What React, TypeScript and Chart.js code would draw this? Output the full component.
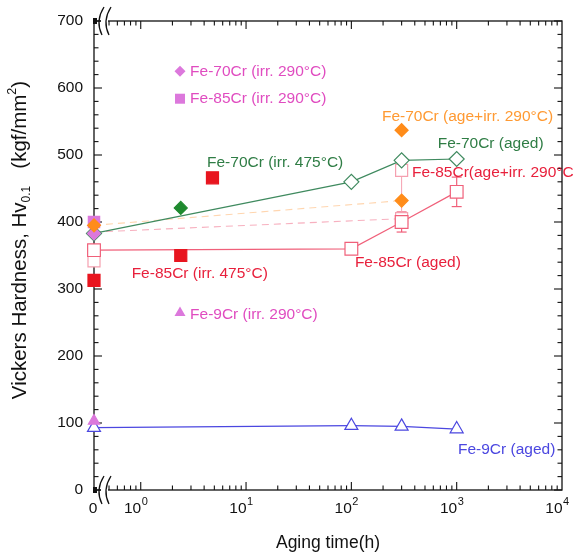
import React, { useEffect, useRef } from "react";
import { Chart, registerables } from "chart.js";

Chart.register(...registerables);

const FONT = "'Liberation Sans', Arial, sans-serif";

// x axis: logarithmic aging time (h); 0 h is shown at the left edge
const X_ZERO = 0.36;
const X_MAX = 10000;
const X_DECADES = [1, 10, 100, 1000, 10000];
const X_DECADE_EXP = ["0", "1", "2", "3", "4"];
const Y_MIN = 0;
const Y_MAX = 700;
const Y_STEP = 100;
const Y_MINOR = 20;

// aged series
const AGED_TIME = [0, 100, 300, 1000];
const FE9CR_AGED = [93, 96, 95, 91];
const FE70CR_AGED = [383, 460, 492, 494];
const FE85CR_AGED = [358, 360, 400, 445];
const FE85CR_AGED_ERR = [0, 0, 15, 22];

// irradiated at 290 C (unaged)
const IRR290_TIME = [0];
const FE9CR_IRR290 = [103];
const FE70CR_IRR290 = [383];
const FE85CR_IRR290 = [400];

// irradiated at 475 C
const FE70CR_IRR475_TIME = [2.4];
const FE70CR_IRR475 = [421];
const FE85CR_IRR475_TIME = [0, 2.4, 4.8];
const FE85CR_IRR475 = [313, 350, 466];

// aged + irradiated at 290 C
const FE70CR_AGEIRR_TIME = [0, 300, 300];
const FE70CR_AGEIRR = [395, 537, 432];
const FE85CR_AGEIRR_TIME = [0, 300, 300];
const FE85CR_AGEIRR = [342, 405, 477];
const FE85CR_TREND_TIME = [0, 300];
const FE85CR_TREND = [385, 405];

const C_PINK_TXT = "#e04cc0";
const C_PINK = "#dc78dc";
const C_GREEN_TXT = "#2f7d45";
const C_GREEN_LINE = "#3f8a5f";
const C_GREEN_FILL = "#1f8a2f";
const C_ORANGE = "#ff8c1a";
const C_ORANGE_TXT = "#ff9a33";
const C_RED = "#e8151f";
const C_RED_TXT = "#e8203c";
const C_RED_LINE = "#f0607a";
const C_LIGHT_RED = "#f5a0b0";
const C_BLUE = "#4b47e0";

type Note = { text: string; h: number; v: number; color: string; marker?: string; mh?: number };
const NOTES: Note[] = [
  { text: "Fe-70Cr (irr. 290°C)", h: 2.94, v: 625, color: C_PINK_TXT, marker: "diamond", mh: 2.36 },
  { text: "Fe-85Cr (irr. 290°C)", h: 2.94, v: 584, color: C_PINK_TXT, marker: "square", mh: 2.36 },
  { text: "Fe-70Cr (irr. 475°C)", h: 4.26, v: 488, color: C_GREEN_TXT },
  { text: "Fe-70Cr (age+irr. 290°C)", h: 195, v: 557, color: C_ORANGE_TXT },
  { text: "Fe-70Cr (aged)", h: 660, v: 517, color: C_GREEN_TXT },
  { text: "Fe-85Cr(age+irr. 290°C", h: 376, v: 473, color: C_RED_TXT },
  { text: "Fe-85Cr (aged)", h: 108, v: 339, color: C_RED_TXT },
  { text: "Fe-85Cr (irr. 475°C)", h: 0.82, v: 323, color: C_RED_TXT },
  { text: "Fe-9Cr (irr. 290°C)", h: 2.94, v: 261, color: C_PINK_TXT, marker: "triangle", mh: 2.36 },
  { text: "Fe-9Cr (aged)", h: 1029, v: 60, color: C_BLUE },
];

const tx = (h: number) => (h <= 0 ? X_ZERO : h);
const pts = (xs: number[], ys: number[]) => xs.map((x, i) => ({ x: tx(x), y: ys[i] }));
const pick = (xs: number[], ys: number[], idx: number[]) => idx.map((i) => ({ x: tx(xs[i]), y: ys[i] }));

const decorPlugin = {
  id: "decor",
  beforeDatasetsDraw(chart: any) {
    const { ctx, chartArea: a, scales } = chart;
    const x = scales.x;
    const y = scales.y;
    ctx.save();
    const line = (x1: number, y1: number, x2: number, y2: number) => {
      ctx.beginPath();
      ctx.moveTo(x1, y1);
      ctx.lineTo(x2, y2);
      ctx.stroke();
    };
    ctx.strokeStyle = "#111";
    ctx.lineWidth = 1.3;
    ctx.strokeRect(a.left, a.top, a.right - a.left, a.bottom - a.top);
    ctx.lineWidth = 1.1;
    for (let v = Y_MIN; v <= Y_MAX; v += Y_MINOR) {
      const py = y.getPixelForValue(v);
      const len = v % Y_STEP === 0 ? 8 : 4.5;
      line(a.left, py, a.left + len, py);
      line(a.right, py, a.right - len, py);
    }
    for (let n = -1; n <= 3; n++) {
      for (let k = 1; k <= 9; k++) {
        const val = k * Math.pow(10, n);
        if (val < 0.45 || val >= X_MAX) continue;
        const px = x.getPixelForValue(val);
        const len = k === 1 ? 8 : 4.5;
        line(px, a.bottom, px, a.bottom - len);
        line(px, a.top, px, a.top + len);
      }
    }
    // axis breaks
    for (const by of [a.top, a.bottom]) {
      ctx.fillStyle = "#fff";
      ctx.fillRect(a.left + 7, by - 3, 7, 6);
      ctx.fillStyle = "#111";
      ctx.fillRect(a.left - 1, by - 3, 4, 6);
      ctx.lineWidth = 1.3;
      for (const cx of [a.left + 6, a.left + 13]) {
        ctx.beginPath();
        ctx.moveTo(cx + 4, by - 14);
        ctx.quadraticCurveTo(cx - 5, by, cx + 2, by + 14);
        ctx.stroke();
      }
    }
    // error bars
    ctx.strokeStyle = C_RED_LINE;
    ctx.lineWidth = 1.2;
    AGED_TIME.forEach((h, i) => {
      const e = FE85CR_AGED_ERR[i];
      if (!e) return;
      const px = x.getPixelForValue(tx(h));
      const t = y.getPixelForValue(FE85CR_AGED[i] + e);
      const b = y.getPixelForValue(FE85CR_AGED[i] - e);
      line(px, t, px, b);
      line(px - 5, t, px + 5, t);
      line(px - 5, b, px + 5, b);
    });
    ctx.restore();
  },
  afterDraw(chart: any) {
    const { ctx, chartArea: a, scales } = chart;
    const x = scales.x;
    const y = scales.y;
    ctx.save();
    ctx.fillStyle = "#111";
    ctx.textBaseline = "middle";
    // x tick labels
    ctx.font = `15.5px ${FONT}`;
    ctx.textAlign = "center";
    ctx.fillText("0", x.getPixelForValue(X_ZERO) - 1, 509);
    X_DECADES.forEach((d, i) => {
      const px = x.getPixelForValue(d);
      ctx.font = `15.5px ${FONT}`;
      ctx.textAlign = "right";
      ctx.fillText("10", px + 0.5, 509);
      ctx.font = `11px ${FONT}`;
      ctx.textAlign = "left";
      ctx.fillText(X_DECADE_EXP[i], px + 1, 502);
    });
    // x title
    ctx.font = `17.5px ${FONT}`;
    ctx.textAlign = "center";
    ctx.fillText("Aging time(h)", (a.left + a.right) / 2, 543);
    // y title with sub/superscripts
    const parts: [string, number, number][] = [
      ["Vickers Hardness, Hv", 20.5, 0],
      ["0.1", 12, 7],
      ["   (kgf/mm", 20.5, 0],
      ["2", 12.5, -7],
      [")", 20.5, 0],
    ];
    let total = 0;
    const widths = parts.map(([t, s]) => {
      ctx.font = `${s}px ${FONT}`;
      const w = ctx.measureText(t).width;
      total += w;
      return w;
    });
    ctx.translate(20, 240);
    ctx.rotate(-Math.PI / 2);
    ctx.textAlign = "left";
    let cx = -total / 2;
    parts.forEach(([t, s, off], i) => {
      ctx.font = `${s}px ${FONT}`;
      ctx.fillText(t, cx, off);
      cx += widths[i];
    });
    ctx.setTransform(1, 0, 0, 1, 0, 0);
    // annotations
    ctx.font = `15.5px ${FONT}`;
    ctx.textAlign = "left";
    for (const n of NOTES) {
      const px = x.getPixelForValue(n.h);
      const py = y.getPixelForValue(n.v);
      ctx.fillStyle = n.color;
      ctx.fillText(n.text, px, py);
      if (n.marker && n.mh) {
        const mx = x.getPixelForValue(n.mh);
        const my = y.getPixelForValue(n.marker === "triangle" ? 265 : n.v);
        ctx.fillStyle = C_PINK;
        ctx.beginPath();
        if (n.marker === "diamond") {
          ctx.moveTo(mx - 5.5, my);
          ctx.lineTo(mx, my - 5.5);
          ctx.lineTo(mx + 5.5, my);
          ctx.lineTo(mx, my + 5.5);
        } else if (n.marker === "square") {
          ctx.rect(mx - 5, my - 5, 10, 10);
        } else {
          ctx.moveTo(mx, my - 6);
          ctx.lineTo(mx + 5.5, my + 3.5);
          ctx.lineTo(mx - 5.5, my + 3.5);
        }
        ctx.closePath();
        ctx.fill();
      }
    }
    ctx.restore();
  },
};

export default function App() {
  const ref = useRef<HTMLCanvasElement | null>(null);
  useEffect(() => {
    if (!ref.current) return;
    const marker = (style: string, r: number, color: string, fill: string) => ({
      pointStyle: style,
      pointRadius: r,
      pointBackgroundColor: fill,
      pointBorderColor: color,
      pointBorderWidth: 1.2,
      borderColor: color,
      backgroundColor: fill,
      clip: 20,
    });
    const chart = new Chart(ref.current, {
      type: "scatter",
      data: {
        datasets: [
          { label: "Fe-70Cr age+irr", data: pts(FE70CR_AGEIRR_TIME, FE70CR_AGEIRR), showLine: false, ...marker("rectRot", 6.5, C_ORANGE, C_ORANGE) },
          { label: "Fe-70Cr irr290", data: pts(IRR290_TIME, FE70CR_IRR290), showLine: false, ...marker("rectRot", 6.5, C_PINK, C_PINK) },
          { label: "Fe-85Cr irr290", data: pts(IRR290_TIME, FE85CR_IRR290), showLine: false, ...marker("rect", 8, C_PINK, C_PINK) },
          { label: "Fe-9Cr irr290", data: pts(IRR290_TIME, FE9CR_IRR290), showLine: false, ...marker("triangle", 6.5, C_PINK, C_PINK) },
          { label: "Fe-85Cr irr475", data: pts(FE85CR_IRR475_TIME, FE85CR_IRR475), showLine: false, ...marker("rect", 8.5, C_RED, C_RED) },
          { label: "Fe-70Cr irr475", data: pts(FE70CR_IRR475_TIME, FE70CR_IRR475), showLine: false, ...marker("rectRot", 6.5, C_GREEN_FILL, C_GREEN_FILL) },
          { label: "Fe-70Cr aged", data: pts(AGED_TIME, FE70CR_AGED), showLine: true, borderWidth: 1.2, ...marker("rectRot", 7.5, C_GREEN_LINE, "#fff") },
          { label: "Fe-85Cr aged", data: pts(AGED_TIME, FE85CR_AGED), showLine: true, borderWidth: 1.2, ...marker("rect", 9, C_RED_LINE, "#fff") },
          { label: "Fe-85Cr age+irr", data: pts(FE85CR_AGEIRR_TIME, FE85CR_AGEIRR), showLine: false, ...marker("rect", 8.5, C_LIGHT_RED, "#fff") },
          { label: "Fe-85Cr age+irr link", data: pick(FE85CR_AGEIRR_TIME, FE85CR_AGEIRR, [1, 2]), showLine: true, borderWidth: 1, pointRadius: 0, borderColor: C_LIGHT_RED, clip: 20 },
          { label: "Fe-85Cr trend", data: pts(FE85CR_TREND_TIME, FE85CR_TREND), showLine: true, borderWidth: 1.1, borderDash: [7, 5], pointRadius: 0, borderColor: "#f7b0bf", clip: 20 },
          { label: "Fe-70Cr trend", data: pick(FE70CR_AGEIRR_TIME, FE70CR_AGEIRR, [0, 2]), showLine: true, borderWidth: 1.1, borderDash: [7, 5], pointRadius: 0, borderColor: "#ffd6b0", clip: 20 },
          { label: "Fe-9Cr aged", data: pts(AGED_TIME, FE9CR_AGED), showLine: true, borderWidth: 1.2, ...marker("triangle", 7.5, C_BLUE, "#fff") },
        ] as any,
      },
      options: {
        responsive: false,
        animation: false,
        devicePixelRatio: 1,
        layout: { padding: { left: 0, right: 14, top: 21, bottom: 0 } },
        plugins: { legend: { display: false }, tooltip: { enabled: false }, title: { display: false } },
        scales: {
          x: {
            type: "logarithmic",
            min: X_ZERO,
            max: X_MAX,
            grid: { display: false },
            border: { display: false },
            ticks: { display: false },
            afterFit: (s: any) => {
              s.height = 64;
            },
          },
          y: {
            type: "linear",
            min: Y_MIN,
            max: Y_MAX,
            grid: { display: false, drawTicks: false },
            border: { display: false },
            ticks: { stepSize: Y_STEP, padding: 11, color: "#111", font: { family: FONT, size: 15.5 } },
            afterFit: (s: any) => {
              s.width = 94;
            },
          },
        },
      } as any,
      plugins: [decorPlugin],
    });
    return () => chart.destroy();
  }, []);
  return (
    <div style={{ position: "fixed", left: 0, top: 0, width: 576, height: 554, background: "#fff" }}>
      <canvas ref={ref} width={576} height={554} style={{ display: "block" }} />
    </div>
  );
}
